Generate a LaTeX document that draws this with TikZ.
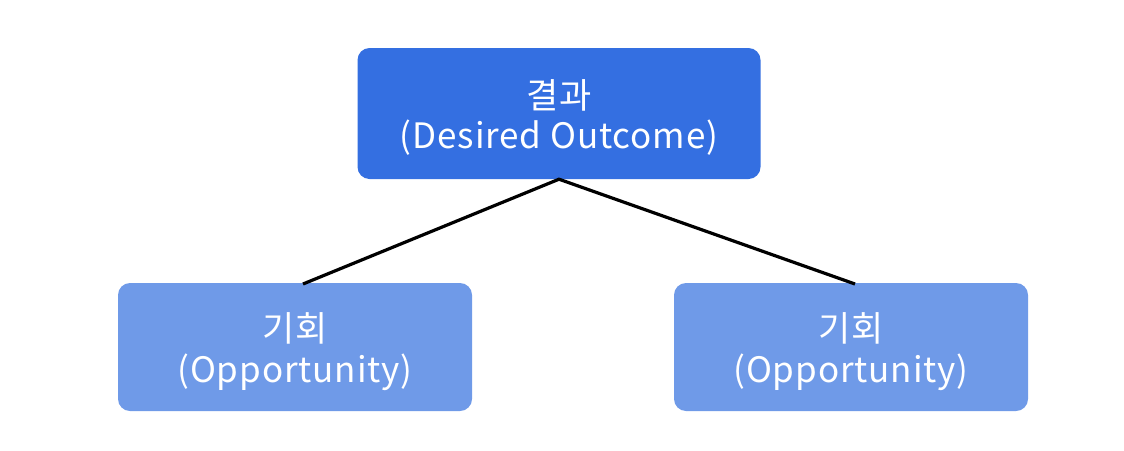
\documentclass[tikz,border=0pt]{standalone}
\usepackage{fontspec}
\setmainfont{Noto Sans CJK KR}[LetterSpace=2.5]
\definecolor{topblue}{HTML}{346FE1}
\definecolor{lowblue}{HTML}{6F9AE8}
\newcommand{\twoline}[2]{\raisebox{0pt}[\dimexpr\height+13pt\relax][\depth]{\begin{tabular}{@{}c@{}}#1\\#2\end{tabular}}}
\begin{document}
\begin{tikzpicture}[x=1pt,y=-1pt,
  boxbase/.style={rounded corners=12pt, inner sep=0pt, text=white,
    font=\fontsize{35}{40}\selectfont},
  topbox/.style={boxbase, fill=topblue, minimum width=403pt, minimum height=131pt},
  lowbox/.style={boxbase, fill=lowblue, minimum width=354pt, minimum height=128pt},
  link/.style={line width=3.2pt, black}]
\useasboundingbox (0,0) rectangle (1124,450);
\node[topbox] (top) at (559,113.5) {\twoline{결과}{(Desired Outcome)}};
\node[lowbox] (left) at (295,347) {\twoline{기회}{(Opportunity)}};
\node[lowbox] (right) at (851,347) {\twoline{기회}{(Opportunity)}};
\coordinate (lend) at (303,284);
\coordinate (rend) at (855,284);
\draw[link] (lend) -- (top.south) -- (rend);
\end{tikzpicture}
\end{document}
